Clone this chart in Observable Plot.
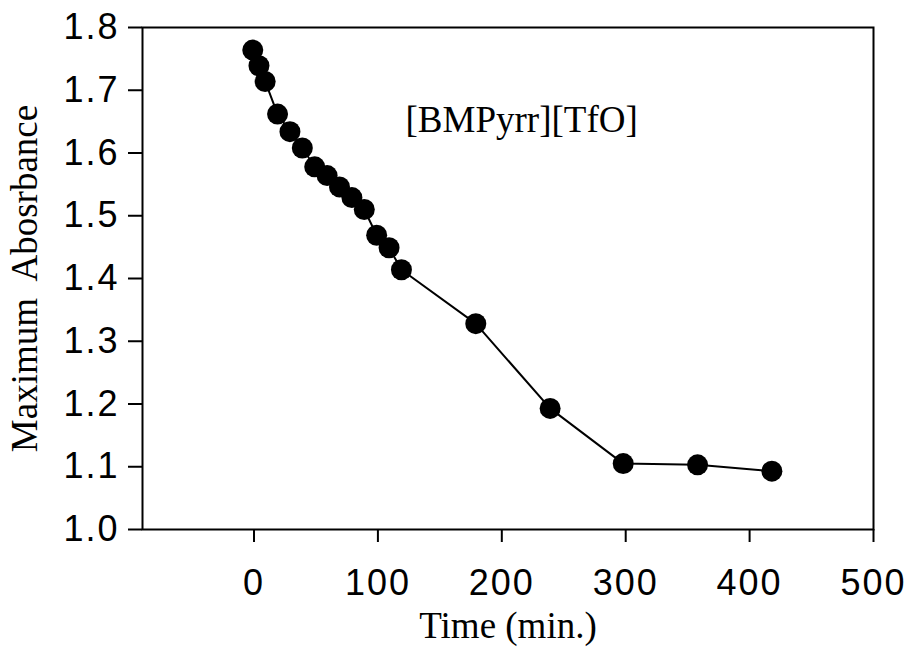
<!DOCTYPE html>
<html>
<head>
<meta charset="utf-8">
<script src="https://cdn.jsdelivr.net/npm/d3@7"></script>
<script src="https://cdn.jsdelivr.net/npm/@observablehq/plot@0.6"></script>
<style>
  html, body { margin: 0; padding: 0; background: #fff; }
  #chart svg { display: block; }
  #chart svg g[aria-label="x-axis tick label"] text,
  #chart svg g[aria-label="y-axis tick label"] text { letter-spacing: 2px; }
</style>
</head>
<body>
<div id="chart"></div>
<script>
// Data
const timeMin = [-1, 4, 9, 19, 29, 39, 49, 59, 69, 79, 89, 99, 109, 119, 179, 239, 298, 358, 418];
const maxAbsorbance = [1.764, 1.739, 1.714, 1.662, 1.634, 1.608, 1.578, 1.564, 1.546, 1.529, 1.510, 1.469, 1.449, 1.414, 1.328, 1.193, 1.105, 1.103, 1.093];
const xTicks = [0, 100, 200, 300, 400, 500];
const yTicks = [1.0, 1.1, 1.2, 1.3, 1.4, 1.5, 1.6, 1.7, 1.8];
const xTitle = "Time (min.)";
const yTitle = "Maximum  Abosrbance";
const noteText = ["[BMPyrr][TfO]"];
const noteX = [216];
const noteY = [1.652];

const points = timeMin.map((t, i) => ({t, a: maxAbsorbance[i]}));
const notes = noteText.map((s, i) => ({s, x: noteX[i], y: noteY[i]}));

const serif = "'Liberation Serif', 'Times New Roman', serif";

const chart = Plot.plot({
  width: 907,
  height: 647,
  marginLeft: 142,
  marginRight: 34,
  marginTop: 27,
  marginBottom: 118,
  style: {fontFamily: "'Liberation Sans', Arial, sans-serif", fontSize: "36px", color: "#000", background: "#fff", overflow: "visible"},
  x: {domain: [-90, 500]},
  y: {domain: [1.0, 1.8]},
  marks: [
    Plot.frame({stroke: "#000", strokeWidth: 2}),
    Plot.axisX({ticks: xTicks, tickSize: 13, tickPadding: 27, strokeWidth: 2, label: null, fontSize: 36}),
    Plot.axisY({ticks: yTicks, tickSize: 14, tickPadding: 9, strokeWidth: 2, tickFormat: d3.format(".1f"), label: null, fontSize: 36}),
    Plot.line(points, {x: "t", y: "a", stroke: "#000", strokeWidth: 2}),
    Plot.dot(points, {x: "t", y: "a", r: 10.5, fill: "#000", stroke: "none"}),
    Plot.text(notes, {x: "x", y: "y", text: "s", fontFamily: serif, fontSize: 37, fill: "#000", lineAnchor: "middle"}),
    Plot.text([xTitle], {frameAnchor: "bottom", dy: 97, fontFamily: serif, fontSize: 37, fill: "#000", lineAnchor: "middle", textAnchor: "middle"}),
    Plot.text([yTitle], {frameAnchor: "left", dx: -117, rotate: -90, fontFamily: serif, fontSize: 37, fill: "#000", lineAnchor: "middle", textAnchor: "middle"})
  ]
});
document.getElementById("chart").appendChild(chart);
</script>
</body>
</html>
